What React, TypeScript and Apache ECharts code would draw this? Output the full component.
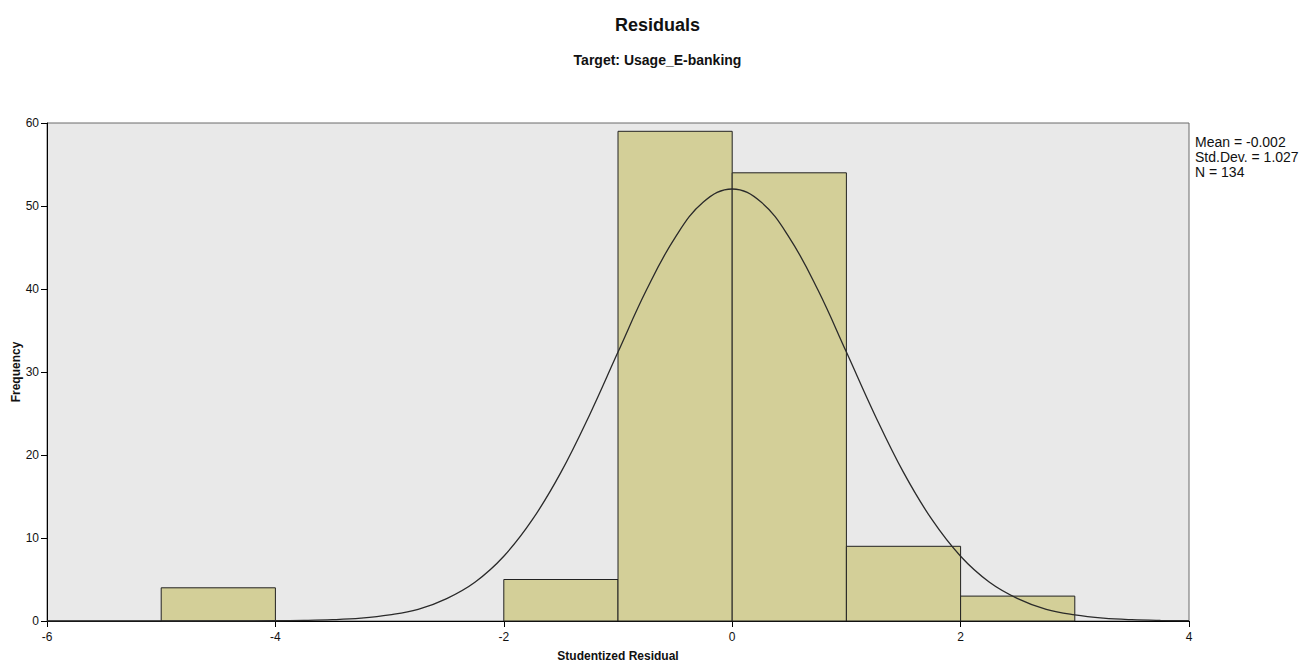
import React, { useEffect, useRef } from "react";
import * as echarts from "echarts";

// Histogram bins: [start, end, frequency]
const binStarts = [-5, -2, -1, 0, 1, 2];
const binEnds = [-4, -1, 0, 1, 2, 3];
const frequencies = [4, 5, 59, 54, 9, 3];

// Fitted normal curve
const curveX = [
  -6, -5.5, -5, -4.5, -4, -3.75, -3.5, -3.25, -3, -2.75, -2.5, -2.25, -2, -1.75, -1.5, -1.25, -1, -0.75, -0.5, -0.25,
  0, 0.25, 0.5, 0.75, 1, 1.25, 1.5, 1.75, 2, 2.25, 2.5, 2.75, 3, 3.25, 3.5, 3.75, 4,
];
const curveY = [
  0, 0, 0, 0.01, 0.03, 0.07, 0.16, 0.35, 0.73, 1.4, 2.7, 4.7, 7.8, 12.2, 17.9, 24.8, 32.4, 39.9, 46.2, 50.5,
  52.05, 50.5, 46.2, 39.9, 32.4, 24.8, 17.9, 12.2, 7.8, 4.7, 2.7, 1.4, 0.73, 0.35, 0.16, 0.07, 0.03,
];

const xTicks = [-6, -4, -2, 0, 2, 4];
const yTicks = [0, 10, 20, 30, 40, 50, 60];

const statsLines = ["Mean = -0.002", "Std.Dev. = 1.027", "N = 134"];

const FONT = "'Liberation Sans', Arial, sans-serif";

export default function App() {
  const ref = useRef<HTMLDivElement>(null);

  useEffect(() => {
    if (!ref.current) return;
    const chart = echarts.init(ref.current, undefined, { renderer: "svg" });
    const barData = binStarts.map((s, i) => [s, binEnds[i], frequencies[i]]);
    const curveData = curveX.map((x, i) => [x, curveY[i]]);

    chart.setOption({
      animation: false,
      backgroundColor: "#ffffff",
      textStyle: { fontFamily: FONT },
      title: [
        {
          text: "Residuals",
          left: "center",
          top: 11,
          textStyle: { fontFamily: FONT, fontSize: 18, fontWeight: "bold", color: "#111" },
        },
        {
          text: "Target: Usage_E-banking",
          left: "center",
          top: 48,
          textStyle: { fontFamily: FONT, fontSize: 14, fontWeight: "bold", color: "#111" },
        },
      ],
      grid: {
        left: 47,
        top: 123,
        right: 126,
        bottom: 42,
        outerBoundsMode: "none",
        containLabel: false,
        show: true,
        backgroundColor: "#e9e9e9",
        borderColor: "#6a6a6a",
        borderWidth: 1,
      },
      xAxis: {
        type: "value",
        min: -6,
        max: 4,
        interval: 2,
        name: "Studentized Residual",
        nameLocation: "middle",
        nameGap: 29,
        nameMoveOverlap: false,
        nameTextStyle: { fontFamily: FONT, fontSize: 12, fontWeight: "bold", color: "#111" },
        axisLine: { show: true, onZero: false, lineStyle: { color: "#000", width: 1 } },
        axisTick: { show: true, length: 6, lineStyle: { color: "#000" } },
        axisLabel: {
          margin: 10,
          fontFamily: FONT,
          fontSize: 12,
          color: "#111",
          formatter: (v: number) => (xTicks.includes(v) ? String(v) : ""),
        },
        splitLine: { show: false },
      },
      yAxis: {
        type: "value",
        min: 0,
        max: 60,
        interval: 10,
        name: "Frequency",
        nameLocation: "middle",
        nameGap: 25,
        nameMoveOverlap: false,
        nameTextStyle: { fontFamily: FONT, fontSize: 12, fontWeight: "bold", color: "#111" },
        axisLine: { show: true, onZero: false, lineStyle: { color: "#000", width: 1 } },
        axisTick: { show: true, length: 6, lineStyle: { color: "#000" } },
        axisLabel: {
          margin: 8,
          fontFamily: FONT,
          fontSize: 12,
          color: "#111",
          formatter: (v: number) => (yTicks.includes(v) ? String(v) : ""),
        },
        splitLine: { show: false },
      },
      graphic: [
        {
          type: "text",
          left: 1195,
          top: 134,
          style: {
            text: statsLines.join("\n"),
            font: `14px ${FONT}`,
            lineHeight: 15,
            fill: "#111",
          },
        },
      ],
      series: [
        {
          type: "custom",
          data: barData,
          encode: { x: [0, 1], y: 2 },
          renderItem: (params: any, api: any) => {
            const p0 = api.coord([api.value(0), api.value(2)]);
            const p1 = api.coord([api.value(1), 0]);
            return {
              type: "rect",
              shape: { x: p0[0], y: p0[1], width: p1[0] - p0[0], height: p1[1] - p0[1] },
              style: { fill: "#d3cf98", stroke: "#222", lineWidth: 1 },
            };
          },
          z: 2,
        },
        {
          type: "line",
          data: curveData,
          smooth: 0.4,
          showSymbol: false,
          lineStyle: { color: "#2a2a2a", width: 1.3 },
          z: 3,
        },
      ],
    });
    return () => chart.dispose();
  }, []);

  return (
    <div
      ref={ref}
      style={{ position: "fixed", left: 0, top: 0, width: 1315, height: 663 }}
    />
  );
}
